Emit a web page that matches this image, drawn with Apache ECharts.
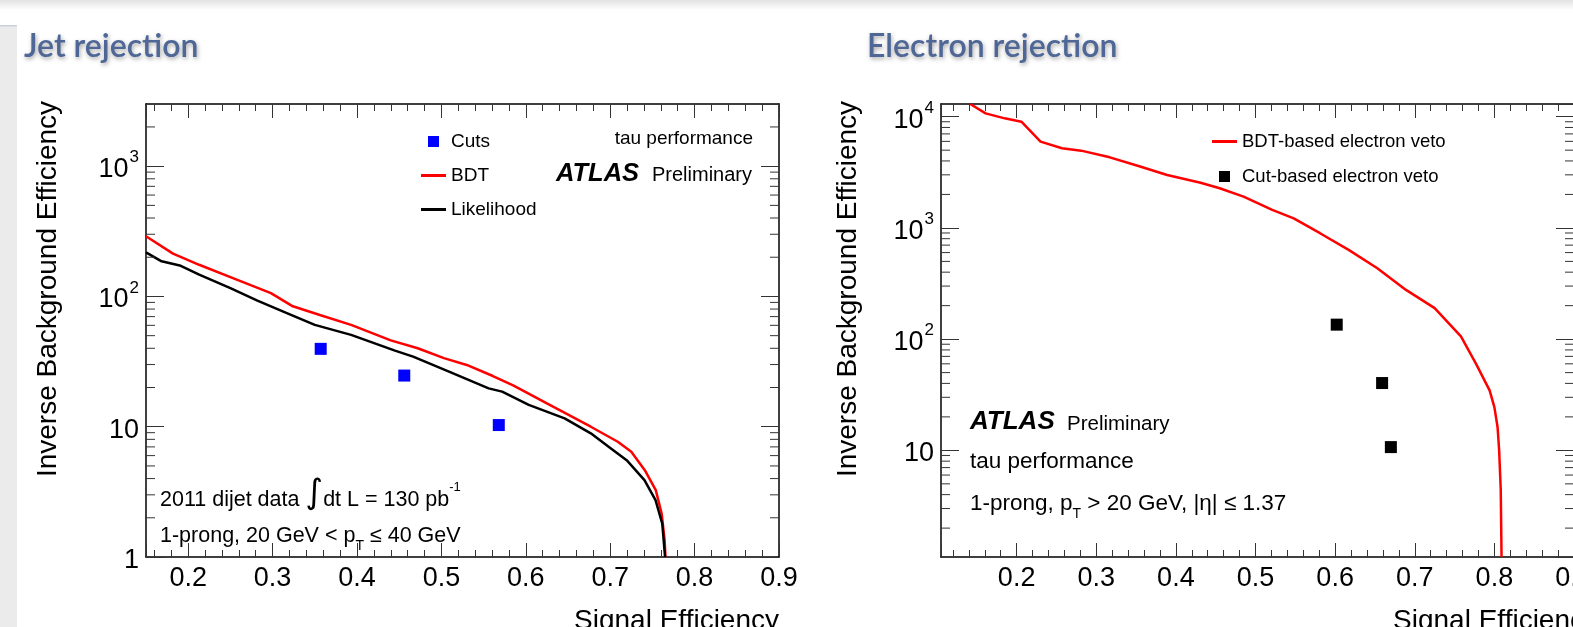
<!DOCTYPE html>
<html>
<head>
<meta charset="utf-8">
<script src="https://cdn.jsdelivr.net/npm/echarts@6/dist/echarts.min.js"></script>
<style>
html, body { margin: 0; padding: 0; background: #fff; }
#main { width: 1573px; height: 627px; }
</style>
</head>
<body>
<div id="main"></div>
<script>
// ---- Jet rejection (left panel) ----
const JET_BDT_X = [0.15, 0.182, 0.213, 0.256, 0.298, 0.324, 0.356, 0.393, 0.44, 0.472, 0.503, 0.53, 0.561, 0.585, 0.625, 0.677, 0.709, 0.725, 0.741, 0.754, 0.761, 0.7645, 0.7655]
const JET_BDT_Y = [290, 213, 175, 136, 106, 84, 72, 60.5, 46, 40, 33.6, 29.8, 24.5, 20.8, 15.1, 10, 7.67, 6.43, 4.64, 3.26, 2.15, 1.34, 1]
const JET_LLH_X = [0.15, 0.1685, 0.19, 0.213, 0.25, 0.282, 0.319, 0.35, 0.393, 0.445, 0.4665, 0.509, 0.556, 0.572, 0.6035, 0.646, 0.677, 0.6985, 0.7195, 0.7406, 0.7537, 0.7617, 0.765]
const JET_LLH_Y = [218, 186, 173, 147, 116, 93, 73.6, 60.5, 50.7, 38.4, 34.5, 26.5, 19.7, 18.6, 14.7, 11.6, 8.9, 7.0, 5.54, 3.89, 2.73, 1.8, 1]
const JET_CUTS_X = [0.357, 0.456, 0.568]
const JET_CUTS_Y = [39.6, 24.7, 10.3]

// ---- Electron rejection (right panel) ----
const ELE_BDT_X = [0.1418, 0.161, 0.185, 0.206, 0.23, 0.257, 0.281, 0.317, 0.353, 0.389, 0.431, 0.455, 0.485, 0.521, 0.548, 0.581, 0.617, 0.653, 0.689, 0.725, 0.758, 0.777, 0.794, 0.8, 0.804, 0.806, 0.808, 0.809]
const ELE_BDT_Y = [13000, 10700, 9660, 9020, 5960, 5200, 4950, 4310, 3600, 2990, 2550, 2270, 1910, 1450, 1220, 896, 634, 434, 277, 190, 106, 60, 34.6, 24.5, 16.2, 10, 4.4, 1.1]
const ELE_CUTS_X = [0.602, 0.659, 0.67]
const ELE_CUTS_Y = [135, 40.3, 10.7]

// axis ranges and minor log ticks
const JET_X_RANGE = [0.15, 0.9]
const JET_Y_RANGE = [1, 3000]
const ELE_X_RANGE = [0.105, 0.9]
const ELE_Y_RANGE = [1.1, 13000]
const JET_MINOR_Y = [2, 3, 4, 5, 6, 7, 8, 9, 20, 30, 40, 50, 60, 70, 80, 90, 200, 300, 400, 500, 600, 700, 800, 900, 2000]
const ELE_MINOR_Y = [2, 3, 4, 5, 6, 7, 8, 9, 20, 30, 40, 50, 60, 70, 80, 90, 200, 300, 400, 500, 600, 700, 800, 900, 2000, 3000, 4000, 5000, 6000, 7000, 8000, 9000]

const zip = (xs, ys) => xs.map((x, i) => [x, ys[i]])

const FONT = 'Liberation Sans'
const TICK = '#333'
const SQUARE = 'path://M0,0L1,0L1,1L0,1Z'
const DASH = 'path://M0,0L25,0L25,3L0,3Z'

function logLabel(v) {
  const e = Math.round(Math.log10(v))
  if (e === 0) return '{b|1}'
  if (e === 1) return '{b|10}'
  return '{b|10}{s|' + e + '}'
}

const richLabel = {
  b: { fontFamily: FONT, fontSize: 27, color: '#000', lineHeight: 34, verticalAlign: 'bottom' },
  s: { fontFamily: FONT, fontSize: 17, color: '#000', lineHeight: 34, verticalAlign: 'top', padding: [0, 0, 0, 1] },
}

function xAxes(gridIndex, range) {
  const base = {
    gridIndex,
    type: 'value',
    min: range[0],
    max: range[1],
    splitNumber: 7,
    axisLine: { show: true, onZero: false, lineStyle: { color: '#000', width: 1.5 } },
    axisTick: { show: true, inside: true, length: 14, lineStyle: { color: TICK, width: 1 } },
    minorTick: { show: true, splitNumber: 5, length: 7, lineStyle: { color: TICK, width: 1 } },
    splitLine: { show: false },
  }
  return [
    {
      ...base,
      position: 'bottom',
      axisLabel: {
        show: true, margin: 8, color: '#000', fontFamily: FONT, fontSize: 27,
        showMinLabel: false, formatter: (v) => v.toFixed(1),
      },
    },
    { ...base, position: 'top', axisLabel: { show: false } },
  ]
}

function yAxes(gridIndex, range) {
  const base = {
    gridIndex,
    type: 'log',
    logBase: 10,
    min: range[0],
    max: range[1],
    axisLine: { show: true, onZero: false, lineStyle: { color: '#000', width: 1.5 } },
    axisTick: { show: true, inside: true, length: 18, lineStyle: { color: TICK, width: 1 } },
    minorTick: { show: false },
    splitLine: { show: false },
  }
  return [
    {
      ...base,
      position: 'left',
      axisLabel: {
        show: true, margin: 7, showMinLabel: gridIndex === 0, showMaxLabel: false,
        formatter: logLabel, rich: richLabel,
      },
    },
    { ...base, position: 'right', axisLabel: { show: false } },
  ]
}

function minorTicks(xi, yi, xRange, values) {
  return {
    type: 'custom',
    xAxisIndex: xi,
    yAxisIndex: yi,
    silent: true,
    clip: false,
    z: 5,
    data: values.map((v) => [xRange[0], v]),
    encode: { x: 0, y: 1 },
    renderItem(params, api) {
      const v = api.value(1)
      const a = api.coord([xRange[0], v])
      const b = api.coord([xRange[1], v])
      const st = { stroke: TICK, lineWidth: 1 }
      return {
        type: 'group',
        children: [
          { type: 'line', shape: { x1: a[0], y1: a[1], x2: a[0] + 9, y2: a[1] }, style: st },
          { type: 'line', shape: { x1: b[0] - 9, y1: b[1], x2: b[0], y2: b[1] }, style: st },
        ],
      }
    },
  }
}

function txt(x, y, text, style, extra) {
  return Object.assign({
    type: 'text', x, y, silent: true,
    style: Object.assign({ text, fill: '#000', font: '19px "' + FONT + '"', textVerticalAlign: 'middle' }, style || {}),
  }, extra || {})
}

function richTxt(x, y, text, size) {
  return {
    type: 'text', x, y, silent: true,
    style: {
      text,
      textVerticalAlign: 'middle',
      rich: {
        n: { font: size + 'px "' + FONT + '"', fill: '#000', lineHeight: 34, verticalAlign: 'bottom' },
        i: { font: '34px "DejaVu Sans"', fill: '#000', lineHeight: 34, verticalAlign: 'bottom' },
        s: { font: '13px "' + FONT + '"', fill: '#000', lineHeight: 34, verticalAlign: 'top', padding: [4, 0, 0, 0] },
        t: { font: '14px "' + FONT + '"', fill: '#000', lineHeight: 34, verticalAlign: 'bottom', padding: [0, 0, -6, 0] },
      },
    },
  }
}

const titleStyle = {
  font: '600 32px Lato', fill: '#4f6796',
  textShadowColor: 'rgba(0,0,0,0.35)', textShadowBlur: 4, textShadowOffsetX: 1, textShadowOffsetY: 2,
}
const axisTitle = { font: '28px "' + FONT + '"', textAlign: 'center' }

const chart = echarts.init(document.getElementById('main'), null, { renderer: 'canvas' })

const option = {
  animation: false,
  backgroundColor: '#fff',
  grid: [
    { left: 146, top: 104, width: 633, height: 453, outerBoundsMode: 'none', containLabel: false },
    { left: 941, top: 104, width: 633, height: 453, outerBoundsMode: 'none', containLabel: false },
  ],
  xAxis: [...xAxes(0, JET_X_RANGE), ...xAxes(1, ELE_X_RANGE)],
  yAxis: [...yAxes(0, JET_Y_RANGE), ...yAxes(1, ELE_Y_RANGE)],
  legend: [
    {
      left: 416, top: 127, orient: 'vertical', itemGap: 15, itemWidth: 25, itemHeight: 11,
      textStyle: { fontFamily: FONT, fontSize: 19, color: '#000' },
      data: [
        { name: 'Cuts', icon: SQUARE },
        { name: 'BDT', icon: DASH },
        { name: 'Likelihood', icon: DASH },
      ],
    },
    {
      left: 1207, top: 127, orient: 'vertical', itemGap: 16, itemWidth: 25, itemHeight: 11,
      textStyle: { fontFamily: FONT, fontSize: 18.5, color: '#000' },
      data: [
        { name: 'BDT-based electron veto', icon: DASH },
        { name: 'Cut-based electron veto', icon: SQUARE },
      ],
    },
  ],
  series: [
    {
      name: 'BDT', type: 'line', xAxisIndex: 0, yAxisIndex: 0, data: zip(JET_BDT_X, JET_BDT_Y),
      symbol: 'none', lineStyle: { color: '#ff0000', width: 2.5 }, itemStyle: { color: '#ff0000' }, z: 3,
    },
    {
      name: 'Likelihood', type: 'line', xAxisIndex: 0, yAxisIndex: 0, data: zip(JET_LLH_X, JET_LLH_Y),
      symbol: 'none', lineStyle: { color: '#000', width: 2.5 }, itemStyle: { color: '#000' }, z: 4,
    },
    {
      name: 'Cuts', type: 'scatter', xAxisIndex: 0, yAxisIndex: 0, data: zip(JET_CUTS_X, JET_CUTS_Y),
      symbol: 'rect', symbolSize: 12, itemStyle: { color: '#0000ff', opacity: 1 }, z: 4,
    },
    {
      name: 'BDT-based electron veto', type: 'line', xAxisIndex: 2, yAxisIndex: 2, data: zip(ELE_BDT_X, ELE_BDT_Y),
      symbol: 'none', lineStyle: { color: '#ff0000', width: 2.5 }, itemStyle: { color: '#ff0000' }, z: 3,
    },
    {
      name: 'Cut-based electron veto', type: 'scatter', xAxisIndex: 2, yAxisIndex: 2, data: zip(ELE_CUTS_X, ELE_CUTS_Y),
      symbol: 'rect', symbolSize: 12, itemStyle: { color: '#000', opacity: 1 }, z: 4,
    },
    minorTicks(0, 0, JET_X_RANGE, JET_MINOR_Y),
    minorTicks(2, 2, ELE_X_RANGE, ELE_MINOR_Y),
  ],
  graphic: [
    // slide decorations
    {
      type: 'rect', silent: true, shape: { x: 0, y: 0, width: 1573, height: 10 },
      style: { fill: new echarts.graphic.LinearGradient(0, 0, 0, 1, [{ offset: 0, color: '#e2e2e2' }, { offset: 1, color: '#ffffff' }]) },
    },
    { type: 'rect', silent: true, shape: { x: 0, y: 25, width: 17, height: 602 }, style: { fill: '#ebebeb' } },
    { type: 'rect', silent: true, shape: { x: 0, y: 25, width: 17, height: 1.5 }, style: { fill: '#c9d1de' } },
    txt(24, 47, 'Jet rejection', titleStyle),
    txt(867, 47, 'Electron rejection', titleStyle),
    // axis titles
    txt(48, 289, 'Inverse Background Efficiency', axisTitle, { rotation: Math.PI / 2 }),
    txt(848, 289, 'Inverse Background Efficiency', axisTitle, { rotation: Math.PI / 2 }),
    txt(779, 621, 'Signal Efficiency', { textAlign: 'right', font: '28px "' + FONT + '"' }),
    txt(1598, 621, 'Signal Efficiency', { textAlign: 'right', font: '28px "' + FONT + '"' }),
    // left panel labels
    txt(753, 139, 'tau performance', { textAlign: 'right' }),
    txt(556, 174, 'ATLAS', { font: 'italic bold 25.5px "' + FONT + '"' }),
    txt(652, 175, 'Preliminary', { font: '20px "' + FONT + '"' }),
    richTxt(160, 494, '{n|2011 dijet data }{i|∫}{n|dt L = 130 pb}{s|-1}', 21.5),
    richTxt(160, 530, '{n|1-prong, 20 GeV < p}{t|T}{n| ≤ 40 GeV}', 21.5),
    // right panel labels
    txt(970, 422, 'ATLAS', { font: 'italic bold 26px "' + FONT + '"' }),
    txt(1067, 424, 'Preliminary', { font: '20.5px "' + FONT + '"' }),
    txt(970, 462, 'tau performance', { font: '22.5px "' + FONT + '"' }),
    richTxt(970, 498, '{n|1-prong, p}{t|T}{n| > 20 GeV, |η| ≤ 1.37}', 22.5),
  ],
}

chart.setOption(option)
</script>
</body>
</html>
